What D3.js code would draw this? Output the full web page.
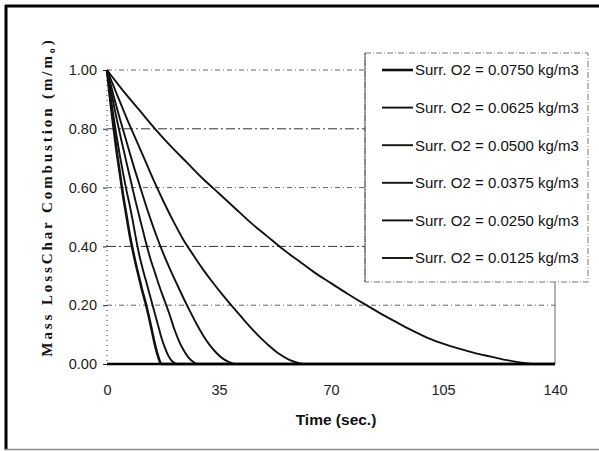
<!DOCTYPE html>
<html>
<head>
<meta charset="utf-8">
<script src="https://cdn.jsdelivr.net/npm/d3@7"></script>
<style>
  html, body { margin: 0; padding: 0; background: #fff; }
  svg { display: block; }
</style>
</head>
<body>
<div id="chart"></div>
<script>
// Tick labels
const xTicks = [0, 35, 70, 105, 140];
const yTicks = [0, 0.2, 0.4, 0.6, 0.8, 1.0];

// Legend labels, fastest to slowest
const seriesLabels = [
  "Surr. O2 = 0.0750 kg/m3",
  "Surr. O2 = 0.0625 kg/m3",
  "Surr. O2 = 0.0500 kg/m3",
  "Surr. O2 = 0.0375 kg/m3",
  "Surr. O2 = 0.0250 kg/m3",
  "Surr. O2 = 0.0125 kg/m3"
];

// [time (s), m/m0]
const o2_0750 = [[0,1],[1,0.9],[2,0.81],[3,0.725],[4,0.65],[5,0.575],[6,0.51],[7,0.445],[8,0.39],[9,0.34],[10,0.295],[11,0.25],[12,0.21],[13,0.165],[14,0.115],[15,0.065],[16,0.025],[17,0],[140,0]];
const o2_0625 = [[0,1],[1,0.92],[2,0.845],[3,0.775],[4,0.71],[5,0.65],[6,0.595],[7,0.545],[8,0.49],[9,0.43],[10,0.375],[11,0.33],[12,0.29],[13,0.25],[14,0.21],[15,0.17],[16,0.13],[17,0.09],[18,0.058],[19,0.032],[20,0.014],[21,0.004],[22,0],[140,0]];
const o2_0500 = [[0,1],[1.5,0.915],[3,0.835],[4.5,0.76],[6,0.69],[7.5,0.62],[9,0.55],[10.5,0.485],[12,0.42],[13.5,0.36],[15,0.31],[16.5,0.26],[18,0.215],[19.5,0.17],[21,0.12],[22.5,0.078],[24,0.046],[25.5,0.022],[27,0.007],[28.5,0],[140,0]];
const o2_0375 = [[0,1],[2,0.915],[4,0.835],[6,0.76],[8,0.685],[10,0.615],[12,0.545],[14,0.48],[16,0.42],[18,0.365],[20,0.315],[22,0.268],[24,0.222],[26,0.178],[28,0.136],[30,0.098],[32,0.066],[34,0.04],[36,0.02],[38,0.007],[40,0],[140,0]];
const o2_0250 = [[0,1],[3,0.92],[6,0.84],[9,0.765],[12,0.69],[15,0.615],[18,0.545],[21,0.48],[24,0.42],[27,0.37],[30,0.322],[33,0.278],[36,0.237],[39,0.198],[42,0.16],[45,0.123],[48,0.089],[51,0.059],[54,0.033],[57,0.014],[60,0.003],[62,0],[140,0]];
const o2_0125 = [[0,1],[5,0.93],[10,0.865],[15,0.8],[20,0.74],[25,0.685],[30,0.63],[35,0.58],[40,0.53],[45,0.48],[50,0.435],[55,0.39],[60,0.35],[65,0.31],[70,0.275],[75,0.24],[80,0.207],[85,0.175],[90,0.145],[95,0.116],[100,0.09],[105,0.069],[110,0.052],[115,0.037],[120,0.025],[125,0.013],[130,0.004],[135,0],[140,0]];

const allSeries = [o2_0750, o2_0625, o2_0500, o2_0375, o2_0250, o2_0125];

const width = 599;
const height = 451;
const sans = "Arial, 'Liberation Sans', sans-serif";

const svg = d3.select("#chart").append("svg")
  .attr("width", width)
  .attr("height", height)
  .style("font-family", sans);

// outer frame (scanned look: heavy top/left, light bottom)
svg.append("line").attr("x1", 5).attr("x2", 599).attr("y1", 6).attr("y2", 6)
  .attr("stroke", "#000").attr("stroke-width", 3);
svg.append("line").attr("x1", 6).attr("x2", 6).attr("y1", 5).attr("y2", 450)
  .attr("stroke", "#000").attr("stroke-width", 3);
svg.append("line").attr("x1", 5).attr("x2", 599).attr("y1", 449.5).attr("y2", 449.5)
  .attr("stroke", "#888").attr("stroke-width", 1.5);

// scales
const x = d3.scaleLinear().domain([0, 140]).range([107, 555]);
const y = d3.scaleLinear().domain([0, 1]).range([364, 70]);

// grid lines
svg.append("g")
  .selectAll("line")
  .data(yTicks.filter(d => d > 0))
  .enter().append("line")
  .attr("x1", x(0))
  .attr("x2", x(140))
  .attr("y1", d => y(d))
  .attr("y2", d => y(d))
  .attr("stroke", (d, i) => i % 2 ? "#333" : "#666")
  .attr("stroke-width", 1)
  .attr("stroke-dasharray", (d, i) => i % 2 ? "9,3,2,3" : "5,3,1,3");

// right edge of plot area
svg.append("line")
  .attr("x1", x(140)).attr("x2", x(140))
  .attr("y1", y(1)).attr("y2", y(0))
  .attr("stroke", "#666").attr("stroke-width", 1);

// left axis (dotted) with small ticks
svg.append("line")
  .attr("x1", x(0)).attr("x2", x(0))
  .attr("y1", y(1)).attr("y2", y(0))
  .attr("stroke", "#222").attr("stroke-width", 1)
  .attr("stroke-dasharray", "1,4");

const yAxis = svg.append("g")
  .attr("transform", `translate(${x(0)},0)`)
  .call(d3.axisLeft(y).tickValues(yTicks).tickFormat(d3.format(".2f")).tickSize(4).tickPadding(6));
yAxis.select(".domain").remove();
yAxis.selectAll("line").attr("stroke", "#222");
yAxis.selectAll("text")
  .attr("font-size", 14.5)
  .attr("fill", "#222")
  .attr("font-family", sans);

const xAxis = svg.append("g")
  .attr("transform", `translate(0,${y(0)})`)
  .call(d3.axisBottom(x).tickValues(xTicks).tickSize(0).tickPadding(21));
xAxis.select(".domain").remove();
xAxis.selectAll("text")
  .attr("font-size", 14.5)
  .attr("fill", "#222")
  .attr("font-family", sans);

// curves
const line = d3.line()
  .x(d => x(d[0]))
  .y(d => y(d[1]))
  .curve(d3.curveMonotoneX);

svg.append("g")
  .selectAll("path")
  .data(allSeries)
  .enter().append("path")
  .attr("d", line)
  .attr("fill", "none")
  .attr("stroke", "#111")
  .attr("stroke-width", (d, i) => i === 0 ? 2.6 : 1.9)
  .attr("stroke-linejoin", "round");

// baseline on top
svg.append("line")
  .attr("x1", x(0)).attr("x2", x(140))
  .attr("y1", y(0)).attr("y2", y(0))
  .attr("stroke", "#000").attr("stroke-width", 2.5);

// legend
const legend = svg.append("g").attr("class", "legend");
legend.append("rect")
  .attr("x", 365).attr("y", 53)
  .attr("width", 223).attr("height", 229)
  .attr("fill", "#fff")
  .attr("stroke", "#777")
  .attr("stroke-width", 1)
  .attr("stroke-dasharray", "6,2,1,2");
legend.append("line")
  .attr("x1", 365).attr("x2", 365).attr("y1", 53).attr("y2", 282)
  .attr("stroke", "#555").attr("stroke-width", 1);

seriesLabels.forEach((label, i) => {
  const cy = 70 + i * 37.6;
  legend.append("line")
    .attr("x1", 382).attr("x2", 413)
    .attr("y1", cy).attr("y2", cy)
    .attr("stroke", "#111")
    .attr("stroke-width", i === 0 ? 2.6 : 1.9);
  legend.append("text")
    .attr("x", 415)
    .attr("y", cy)
    .attr("dy", "0.36em")
    .attr("font-size", 15)
    .attr("fill", "#111")
    .text(label);
});

// axis titles
svg.append("text")
  .attr("x", 336)
  .attr("y", 425)
  .attr("text-anchor", "middle")
  .attr("font-size", 15.5)
  .attr("font-weight", "bold")
  .attr("fill", "#111")
  .text("Time (sec.)");

const yTitle = svg.append("text")
  .attr("transform", "translate(52,197) rotate(-90)")
  .attr("text-anchor", "middle")
  .attr("font-family", "'Liberation Serif', 'DejaVu Serif', serif")
  .attr("font-size", 15)
  .attr("font-weight", "bold")
  .attr("fill", "#111")
  .attr("letter-spacing", 2.9);
yTitle.append("tspan").text("Mass LossChar Combustion (m/m");
yTitle.append("tspan").attr("font-size", 10).attr("dy", 3).text("o");
yTitle.append("tspan").attr("dy", -3).text(")");
</script>
</body>
</html>
